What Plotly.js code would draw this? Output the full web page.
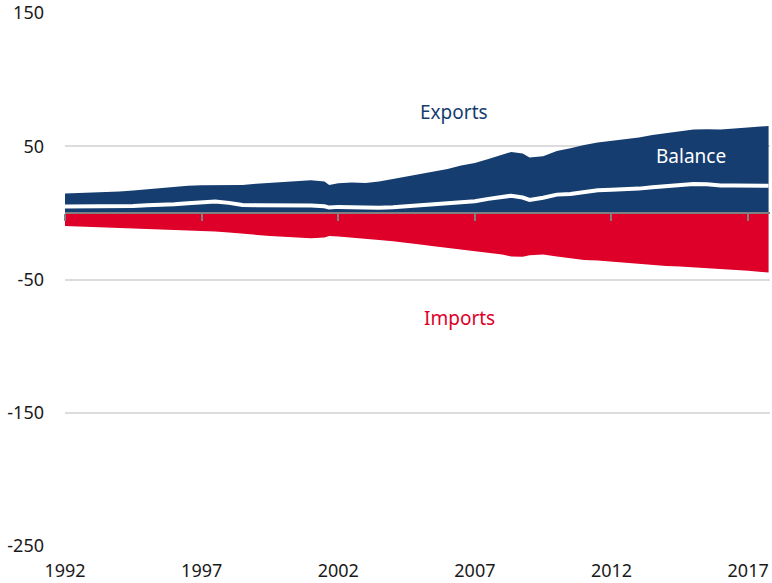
<!DOCTYPE html>
<html>
<head>
<meta charset="utf-8">
<script src="https://cdn.plot.ly/plotly-3.0.1.min.js"></script>
<style>html,body{margin:0;padding:0;background:#fff}#chart{width:772px;height:583px}</style>
</head>
<body>
<div id="chart"></div>
<script>
const dates = ["1992-01","1992-07","1993-01","1993-07","1994-01","1994-07","1995-01","1995-07","1996-01","1996-07",
"1997-01","1997-07","1998-01","1998-07","1999-01","1999-07","2000-01","2000-07","2001-01","2001-07","2001-09",
"2002-01","2002-07","2003-01","2003-07","2004-01","2004-07","2005-01","2005-07","2006-01","2006-07",
"2007-01","2007-07","2008-01","2008-05","2008-10","2009-01","2009-07","2010-01","2010-07","2011-01","2011-07",
"2012-01","2012-07","2013-01","2013-07","2014-01","2014-07","2015-01","2015-07","2016-01","2016-07",
"2017-01","2017-07","2017-10"];
const exportsVals = [14.5,14.8,15.0,15.6,16.0,16.8,17.8,18.5,19.3,20.3,
20.8,21.0,21.2,21.0,21.8,22.6,23.4,24.2,24.5,23.5,21.0,
22.3,22.8,22.5,23.5,25.5,27.3,29.5,31.0,33.0,35.5,
37.5,40.5,43.5,45.7,44.5,41.5,42.5,46.5,48.5,51.0,52.8,
54.0,55.0,56.5,58.5,60.0,61.5,62.5,62.7,62.5,63.3,
64.0,64.8,65.2];
const importsVals = [-9.8,-10.2,-10.5,-10.9,-11.3,-11.8,-12.2,-12.6,-12.8,-13.0,
-13.3,-14.0,-14.8,-15.8,-16.5,-17.3,-18.0,-18.7,-19.0,-18.5,-17.3,
-17.8,-18.5,-19.3,-20.3,-21.3,-22.3,-23.8,-25.0,-26.2,-27.5,
-28.8,-30.0,-31.3,-32.8,-33.0,-31.8,-31.2,-32.8,-34.3,-35.3,-35.8,
-36.6,-37.5,-38.3,-39.3,-39.8,-40.2,-40.8,-41.3,-42.0,-42.8,
-43.5,-44.3,-44.8];
const balanceVals = [4.8,4.8,4.6,4.8,4.8,5.2,5.8,6.0,6.5,7.2,
7.5,8.5,7.5,6.0,5.8,5.8,6.0,5.8,5.5,5.0,4.0,
4.5,4.3,3.8,3.8,4.2,5.0,5.7,6.0,6.8,8.0,
8.7,10.5,12.2,12.9,11.5,9.7,11.3,13.7,14.2,15.7,17.0,
17.4,17.5,18.2,19.2,20.2,21.3,21.7,21.4,20.5,20.5,
20.5,20.5,20.4];
const yTicks = [150,50,-50,-150,-250];
const xRange = ["1992-01-01","2017-10-20"];

const blue = "#153d6f", red = "#de0029";
const traces = [
  {x: dates, y: exportsVals, type: "scatter", mode: "lines", fill: "tozeroy",
   fillcolor: blue, line: {width: 0, color: blue}, hoverinfo: "skip"},
  {x: dates, y: importsVals, type: "scatter", mode: "lines", fill: "tozeroy",
   fillcolor: red, line: {width: 0, color: red}, hoverinfo: "skip"},
  {x: dates, y: balanceVals, type: "scatter", mode: "lines", xaxis: "x2",
   line: {width: 4, color: "#ffffff"}, hoverinfo: "skip"}
];
const font = {family: "Noto Sans, sans-serif", size: 18, color: "#1a1a1a"};
const layout = {
  width: 772, height: 583,
  margin: {l: 65, r: 2, t: 13, b: 37},
  paper_bgcolor: "#fff", plot_bgcolor: "#fff",
  showlegend: false,
  font: font,
  xaxis: {type: "date", range: xRange, tick0: "1992-01-01", dtick: "M60", tickformat: "%Y",
          showgrid: false, zeroline: false, showline: false, ticks: "", ticklabelstandoff: 12,
          tickfont: font},
  xaxis2: {type: "date", range: xRange, overlaying: "x", anchor: "free", position: 0.625,
           tick0: "1992-01-01", dtick: "M60", showticklabels: false, showgrid: false, zeroline: false,
           showline: true, linecolor: "#808080", linewidth: 2, layer: "above traces",
           ticks: "outside", ticklen: 7, tickwidth: 2, tickcolor: "#808080"},
  yaxis: {range: [-250, 150], tickvals: yTicks, ticktext: yTicks.map(String),
          showgrid: true, gridcolor: "#dcdcdc", gridwidth: 2, zeroline: false, showline: false,
          ticks: "", ticklabelstandoff: 20, tickfont: font},
  annotations: [
    {x: "2006-04-01", y: 75.5, xref: "x", yref: "y", text: "Exports", showarrow: false,
     font: {family: "Noto Sans, sans-serif", size: 19, color: blue}},
    {x: "2006-06-15", y: -79, xref: "x", yref: "y", text: "Imports", showarrow: false,
     font: {family: "Noto Sans, sans-serif", size: 19, color: red}},
    {x: "2014-12-01", y: 42.5, xref: "x", yref: "y", text: "Balance", showarrow: false,
     font: {family: "Noto Sans, sans-serif", size: 19, color: "#ffffff"}}
  ]
};
Plotly.newPlot("chart", traces, layout, {displayModeBar: false, staticPlot: true});
</script>
</body>
</html>
